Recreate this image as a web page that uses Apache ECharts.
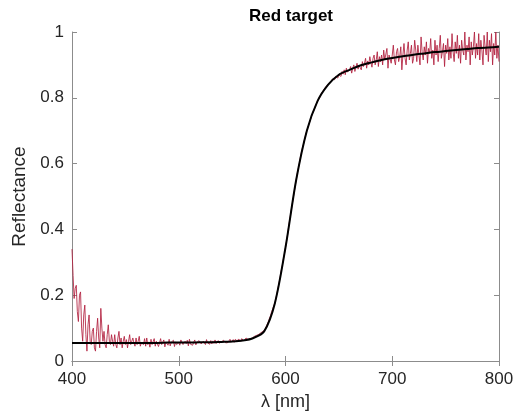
<!DOCTYPE html>
<html><head><meta charset="utf-8">
<script src="https://cdn.jsdelivr.net/npm/echarts@6/dist/echarts.min.js"></script>
<style>html,body{margin:0;padding:0;background:#fff}#c{width:518px;height:417px}</style>
</head><body><div id="c"></div>
<script>
var title = 'Red target';
var xName = 'λ [nm]';
var yName = 'Reflectance';
var xTicks = [400, 500, 600, 700, 800];
var yTicks = [0, 0.2, 0.4, 0.6, 0.8, 1];

// measured spectrum, 400..800 nm every 1 nm
var measStart = 400, measStep = 1;
var measured = [
0.34,0.26,0.19,0.22,0.23,0.15,0.12,0.20,0.21,0.10,
0.06,0.14,0.17,0.08,0.03,0.11,0.14,0.06,0.05,0.09,
0.10,0.04,0.03,0.09,0.13,0.07,0.04,0.16,0.10,0.06,
0.09,0.05,0.04,0.08,0.11,0.06,0.05,0.08,0.06,0.045,
0.08,0.05,0.04,0.07,0.09,0.05,0.07,0.04,0.06,0.075,
0.05,0.065,0.04,0.06,0.08,0.05,0.045,0.07,0.055,0.045,
0.07,0.05,0.06,0.075,0.045,0.055,0.06,0.05,0.068,0.045,
0.07,0.05,0.058,0.042,0.066,0.05,0.056,0.068,0.045,0.06,
0.058,0.044,0.055,0.068,0.05,0.052,0.064,0.043,0.058,0.053,
0.048,0.066,0.046,0.057,0.052,0.063,0.044,0.058,0.05,0.055,
0.056,0.048,0.064,0.06,0.05,0.045,0.06,0.053,0.063,0.046,
0.066,0.051,0.055,0.048,0.057,0.064,0.049,0.056,0.052,0.062,
0.06,0.052,0.05,0.06,0.056,0.05,0.065,0.055,0.06,0.051,
0.062,0.052,0.061,0.054,0.064,0.053,0.058,0.062,0.054,0.06,
0.058,0.053,0.063,0.062,0.055,0.061,0.056,0.062,0.066,0.057,
0.06,0.065,0.057,0.066,0.061,0.06,0.067,0.062,0.06,0.068,
0.066,0.061,0.066,0.07,0.066,0.065,0.071,0.068,0.073,0.07,
0.072,0.075,0.073,0.078,0.077,0.081,0.082,0.086,0.086,0.09,
0.09,0.097,0.105,0.11,0.12,0.13,0.138,0.15,0.158,0.168,
0.175,0.19,0.205,0.222,0.238,0.255,0.275,0.29,0.31,0.325,
0.345,0.365,0.385,0.41,0.43,0.45,0.47,0.49,0.51,0.53,
0.55,0.57,0.585,0.60,0.62,0.635,0.65,0.66,0.675,0.69,
0.70,0.71,0.72,0.73,0.74,0.75,0.755,0.765,0.775,0.78,
0.79,0.795,0.80,0.81,0.815,0.82,0.825,0.83,0.835,0.838,
0.84,0.845,0.85,0.85,0.857,0.86,0.855,0.865,0.868,0.86,
0.87,0.875,0.865,0.88,0.872,0.885,0.87,0.89,0.878,0.882,
0.885,0.895,0.875,0.89,0.9,0.88,0.893,0.905,0.887,0.898,
0.9,0.885,0.91,0.895,0.905,0.92,0.89,0.912,0.9,0.925,
0.907,0.893,0.92,0.93,0.9,0.915,0.94,0.895,0.925,0.91,
0.93,0.9,0.945,0.915,0.92,0.95,0.89,0.93,0.935,0.905,
0.93,0.96,0.915,0.9,0.94,0.95,0.91,0.925,0.955,0.885,
0.93,0.965,0.92,0.9,0.945,0.97,0.915,0.935,0.96,0.905,
0.92,0.975,0.945,0.91,0.96,0.93,0.9,0.985,0.94,0.915,
0.955,0.93,0.97,0.905,0.95,0.935,0.98,0.92,0.945,0.9,
0.975,0.93,0.96,0.91,0.95,0.99,0.92,0.94,0.965,0.895,
0.96,0.935,0.98,0.915,0.955,0.92,0.995,0.94,0.91,0.97,
0.935,0.99,0.92,0.96,0.905,0.975,0.945,0.93,1.0,0.915,
0.96,0.94,0.985,0.9,0.97,0.93,0.955,1.0,0.92,0.965,
0.93,0.995,0.915,0.975,0.945,0.9,0.99,0.955,0.93,1.0,
0.91,0.975,0.94,0.995,0.9,0.965,0.93,1.0,0.92,0.96,
0.91
];

// fitted model, every 10 nm
var fitWl = [400,410,420,430,440,450,460,470,480,490,500,510,520,530,540,550,560,570,580,590,600,610,620,630,640,650,660,670,680,690,700,710,720,730,740,750,760,770,780,790,800];
var fitVal = [0.055,0.055,0.055,0.055,0.055,0.055,0.055,0.055,0.055,0.056,0.056,0.056,0.057,0.057,0.058,0.059,0.062,0.07,0.09,0.175,0.345,0.55,0.70,0.79,0.84,0.87,0.885,0.898,0.907,0.915,0.921,0.926,0.931,0.935,0.939,0.942,0.945,0.948,0.951,0.953,0.955];

var measData = measured.map(function(v,i){return [measStart+i*measStep, v];});
var fitData = fitWl.map(function(w,i){return [w, fitVal[i]];});

var FONT = 'Liberation Sans, Arial, sans-serif';
var axisCol = '#8c8c8c';
var txtCol = '#262626';

var chart = echarts.init(document.getElementById('c'), null, {renderer:'canvas'});
var baseX = {type:'value', min:400, max:800, interval:100,
  axisLine:{show:true, lineStyle:{color:axisCol, width:1}},
  axisTick:{show:true, inside:true, length:5, lineStyle:{color:axisCol}},
  splitLine:{show:false}};
var baseY = {type:'value', min:0, max:1, interval:0.2,
  axisLine:{show:true, lineStyle:{color:axisCol, width:1}},
  axisTick:{show:true, inside:true, length:5, lineStyle:{color:axisCol}},
  splitLine:{show:false}};

chart.setOption({
  animation:false,
  backgroundColor:'#fff',
  title:{text:title, left:286, top:3, textAlign:'center',
    textStyle:{fontFamily:FONT, fontSize:17, fontWeight:'bold', color:'#000'}},
  grid:{left:72, right:19, top:32, bottom:56, containLabel:false},
  xAxis:[
    Object.assign({}, baseX, {position:'bottom', name:xName, nameLocation:'middle', nameGap:28,
      nameTextStyle:{fontFamily:FONT, fontSize:18, color:txtCol},
      axisLabel:{show:true, margin:10, fontFamily:FONT, fontSize:17, color:txtCol}}),
    Object.assign({}, baseX, {position:'top', axisLabel:{show:false}})
  ],
  yAxis:[
    Object.assign({}, baseY, {position:'left', name:yName, nameLocation:'middle', nameGap:38,
      nameTextStyle:{fontFamily:FONT, fontSize:19, color:txtCol},
      axisLabel:{show:true, margin:8, fontFamily:FONT, fontSize:17, color:txtCol,
        formatter:function(v){return String(v);}}}),
    Object.assign({}, baseY, {position:'right', axisLabel:{show:false}})
  ],
  series:[
    {type:'line', name:'measured', data:measData, showSymbol:false, symbol:'none',
      lineStyle:{color:'#b2203e', width:1, opacity:0.85}, z:2},
    {type:'line', name:'fit', data:fitData, showSymbol:false, symbol:'none', smooth:0.3,
      lineStyle:{color:'#000', width:2}, z:3}
  ]
});
</script></body></html>
